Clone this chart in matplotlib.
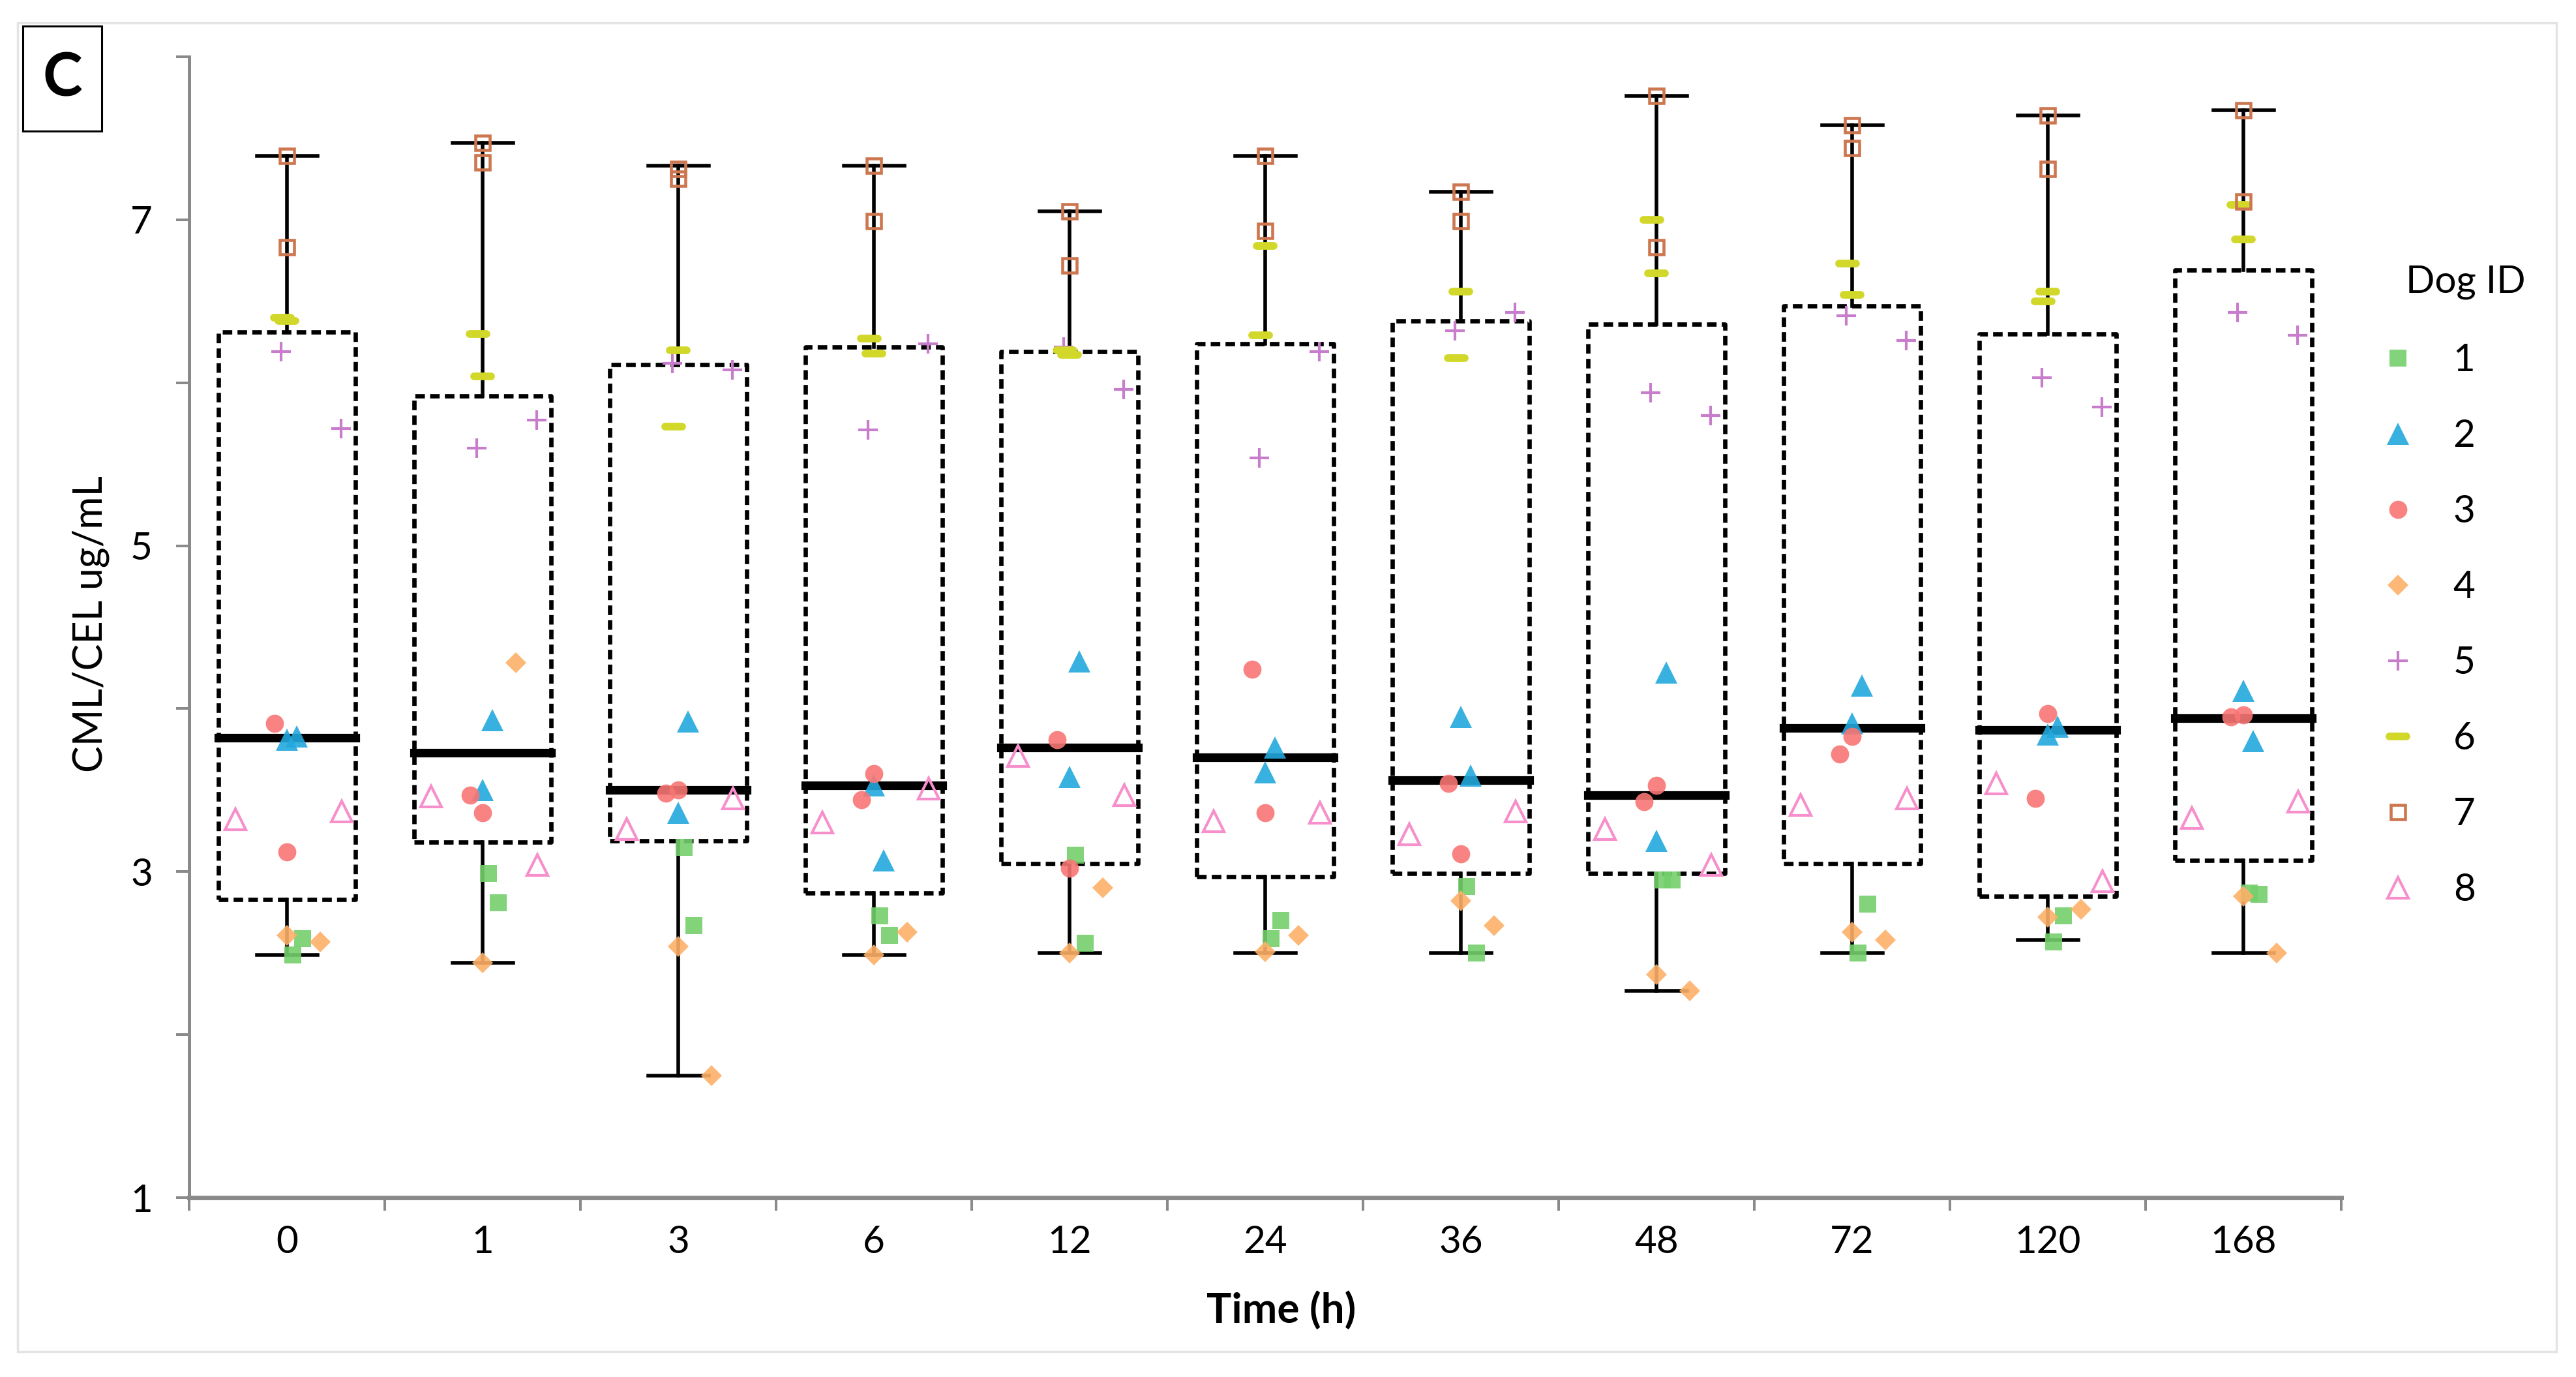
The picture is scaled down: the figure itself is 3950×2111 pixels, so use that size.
import matplotlib
matplotlib.use("Agg")
import matplotlib.pyplot as plt
from matplotlib.lines import Line2D
from matplotlib.markers import MarkerStyle
from matplotlib.patches import Rectangle
import numpy as np

# ---------------- data ----------------
times = ["0", "1", "3", "6", "12", "24", "36", "48", "72", "120", "168"]

whisker_low = [2.49, 2.44, 1.75, 2.49, 2.50, 2.50, 2.50, 2.27, 2.50, 2.58, 2.50]
box_q1 = [2.83, 3.18, 3.19, 2.87, 3.05, 2.97, 2.99, 2.99, 3.05, 2.85, 3.07]
box_median = [3.82, 3.73, 3.50, 3.53, 3.76, 3.70, 3.56, 3.47, 3.88, 3.87, 3.94]
box_q3 = [6.31, 5.92, 6.11, 6.22, 6.19, 6.24, 6.38, 6.36, 6.47, 6.30, 6.69]
whisker_high = [7.39, 7.47, 7.33, 7.33, 7.05, 7.39, 7.17, 7.76, 7.58, 7.64, 7.67]

dog_ids = ["1", "2", "3", "4", "5", "6", "7", "8"]

dog1_a = [2.49, 2.99, 3.15, 2.73, 3.10, 2.59, 2.91, 2.95, 2.50, 2.57, 2.87]
dog1_b = [2.59, 2.81, 2.67, 2.61, 2.56, 2.70, 2.50, 2.95, 2.80, 2.73, 2.86]
dog2_a = [3.81, 3.50, 3.36, 3.53, 3.58, 3.61, 3.95, 3.19, 3.91, 3.84, 4.11]
dog2_b = [3.83, 3.93, 3.92, 3.07, 4.29, 3.76, 3.59, 4.22, 4.14, 3.89, 3.80]
dog3_a = [3.91, 3.47, 3.48, 3.44, 3.81, 4.24, 3.54, 3.43, 3.72, 3.45, 3.95]
dog3_b = [3.12, 3.36, 3.50, 3.60, 3.02, 3.36, 3.11, 3.53, 3.83, 3.97, 3.96]
dog4_a = [2.61, 2.44, 2.54, 2.49, 2.50, 2.51, 2.82, 2.37, 2.63, 2.72, 2.85]
dog4_b = [2.57, 4.28, 1.75, 2.63, 2.90, 2.61, 2.67, 2.27, 2.58, 2.77, 2.50]
dog5_a = [6.19, 5.60, 6.12, 5.71, 6.22, 5.54, 6.32, 5.94, 6.41, 6.03, 6.43]
dog5_b = [5.72, 5.77, 6.08, 6.24, 5.96, 6.19, 6.43, 5.80, 6.26, 5.85, 6.29]
dog6_a = [6.40, 6.30, 5.73, 6.27, 6.20, 6.29, 6.15, 7.00, 6.73, 6.50, 7.09]
dog6_b = [6.38, 6.04, 6.20, 6.18, 6.17, 6.84, 6.56, 6.67, 6.54, 6.56, 6.88]
dog7_a = [7.39, 7.47, 7.31, 7.33, 7.05, 7.39, 7.17, 7.76, 7.58, 7.64, 7.67]
dog7_b = [6.83, 7.35, 7.25, 6.99, 6.72, 6.93, 6.99, 6.83, 7.44, 7.31, 7.11]
dog8_a = [3.32, 3.46, 3.26, 3.30, 3.71, 3.31, 3.23, 3.26, 3.41, 3.54, 3.33]
dog8_b = [3.37, 3.04, 3.45, 3.51, 3.47, 3.36, 3.37, 3.04, 3.45, 2.94, 3.43]

# ---------------- styles ----------------
plt.rcParams["font.family"] = ["Lato", "DejaVu Sans"]

W, H = 3950, 2111
fig = plt.figure(figsize=(W / 100, H / 100), dpi=100)

AX_L, AX_R, AX_B, AX_T = 290, 3590, 1836, 87
ax = fig.add_axes([AX_L / W, 1 - AX_B / H, (AX_R - AX_L) / W, (AX_B - AX_T) / H])

x = np.arange(len(times))

stats = [
    dict(whislo=lo, q1=a, med=m, q3=b, whishi=hi, label=t)
    for lo, a, m, b, hi, t in zip(whisker_low, box_q1, box_median, box_q3, whisker_high, times)
]
ax.bxp(
    stats, positions=x, widths=0.70, capwidths=0.31, showfliers=False, manage_ticks=False,
    boxprops=dict(color="black", linewidth=4.8, linestyle=(0, (2.2, 1.2))),
    medianprops=dict(color="black", linewidth=9.5, solid_capstyle="projecting"),
    whiskerprops=dict(color="black", linewidth=4.0),
    capprops=dict(color="black", linewidth=4.0),
)

dash = MarkerStyle("_", capstyle="round")
dog_styles = [
    dict(marker="s", ms=18.5, color="#74CF6C", mew=0, alpha=0.9),
    dict(marker="^", ms=24, color="#22A9DE", mew=0, alpha=0.9),
    dict(marker="o", ms=20, color="#F87674", mew=0, alpha=0.9),
    dict(marker="D", ms=16.5, color="#FDB068", mew=0, alpha=0.9),
    dict(marker="+", ms=21, color="#C87DCC", mew=3.0),
    dict(marker=dash, ms=19, color="#D2D82A", mew=8.5),
    dict(marker="s", ms=16.5, mfc="none", mec="#CD7750", mew=3.3),
    dict(marker="^", ms=23, mfc="none", mec="#F68FCB", mew=3.0),
]
# horizontal dodge of the two readings of each dog (category units)
dog_offsets = [(0.03, 0.08), (0.0, 0.05), (-0.065, 0.0), (0.0, 0.17),
               (-0.03, 0.275), (-0.025, 0.0), (0.0, 0.0), (-0.265, 0.28)]
dog_values = [(dog1_a, dog1_b), (dog2_a, dog2_b), (dog3_a, dog3_b), (dog4_a, dog4_b),
              (dog5_a, dog5_b), (dog6_a, dog6_b), (dog7_a, dog7_b), (dog8_a, dog8_b)]

handles = []
for (va, vb), (oa, ob), st in zip(dog_values, dog_offsets, dog_styles):
    ax.plot(x + oa, va, linestyle="none", zorder=3, **st)
    ax.plot(x + ob, vb, linestyle="none", zorder=3, **st)
    handles.append(Line2D([], [], linestyle="none", **st))

ax.set_xlim(-0.5, len(times) - 0.5)
ax.set_ylim(1, 8)

grey = "#8A8A8A"
for s in ("top", "right"):
    ax.spines[s].set_visible(False)
ax.spines["left"].set_color(grey)
ax.spines["left"].set_linewidth(3.6)
ax.spines["bottom"].set_color(grey)
ax.spines["bottom"].set_linewidth(5.0)

yt = np.arange(1, 9)
ax.set_yticks(yt, labels=[str(v) if v % 2 == 1 else "" for v in yt])
ax.tick_params(axis="y", length=14.4, width=2.9, color=grey, pad=26, labelsize=42)

ax.set_xticks(np.arange(-0.5, len(times), 1.0), labels=[""] * (len(times) + 1))
ax.tick_params(axis="x", which="major", length=14.4, width=2.9, color=grey)
ax.set_xticks(x, labels=times, minor=True)
ax.tick_params(axis="x", which="minor", length=0, pad=30, labelsize=42)

ax.set_ylabel("CML/CEL ug/mL", fontsize=44, va="center")
ax.yaxis.set_label_coords((139 - AX_L) / (AX_R - AX_L), (AX_B - 956) / (AX_B - AX_T))
ax.set_xlabel("Time (h)", fontsize=46, fontweight="bold", va="center")
ax.xaxis.set_label_coords((1965 - AX_L) / (AX_R - AX_L), -(2008 - AX_B) / (AX_B - AX_T))

# legend
leg = fig.legend(handles, dog_ids, loc="upper left", bbox_to_anchor=(3648 / W, 1 - 526 / H),
                 frameon=False, fontsize=42, handlelength=1.0, handletextpad=0.95,
                 labelspacing=1.08, borderpad=0, borderaxespad=0)
fig.text(3781 / W, 1 - 432 / H, "Dog ID", ha="center", va="center", fontsize=42)

# panel letter
fig.patches.append(Rectangle((35 / W, 1 - 201 / H), 121 / W, 161 / H, transform=fig.transFigure,
                             fill=False, edgecolor="black", linewidth=2.2))
fig.text(96 / W, 1 - 121 / H, "C", ha="center", va="center", fontsize=66, fontweight="bold")

# light outer frame
fig.patches.append(Rectangle((27 / W, 1 - 2072 / H), (3920 - 27) / W, (2072 - 35) / H,
                             transform=fig.transFigure, fill=False, edgecolor="#E4E4E4", linewidth=2.5))

fig.savefig("out.png", dpi=100, facecolor="white")
